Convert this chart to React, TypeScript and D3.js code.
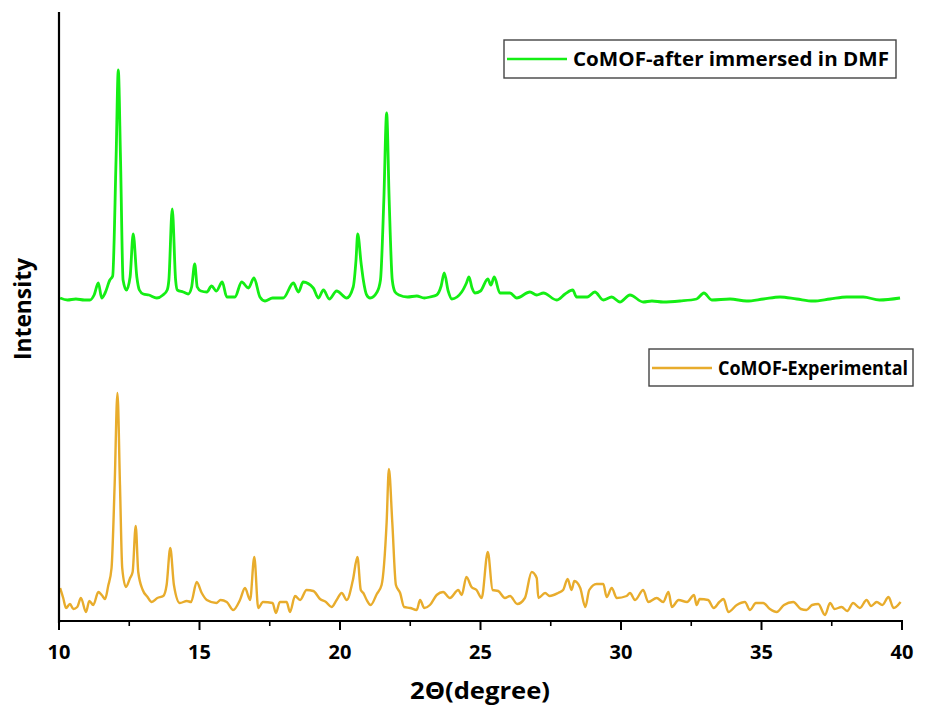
import React from "react";
import * as d3 from "d3";

// 2θ (degree) and intensity (a.u.)
const greenTheta = [10.04,10.3,10.6,10.9,11.1,11.25,11.4,11.52,11.64,11.81,11.91,12.03,12.11,12.19,12.28,12.4,12.53,12.64,12.77,12.86,13.0,13.2,13.48,13.7,13.85,13.91,14.03,14.15,14.21,14.42,14.6,14.72,14.83,14.92,15.05,15.26,15.43,15.6,15.81,15.97,16.26,16.5,16.74,16.94,17.15,17.33,17.6,17.98,18.34,18.52,18.69,19.05,19.23,19.41,19.62,19.88,20.24,20.47,20.57,20.63,20.75,20.83,20.95,21.07,21.32,21.44,21.56,21.66,21.75,21.86,21.96,22.1,22.4,22.73,23.0,23.2,23.44,23.6,23.71,23.85,23.98,24.33,24.5,24.59,24.7,24.8,25.0,25.26,25.37,25.49,25.69,26.05,26.29,26.76,27.0,27.24,27.71,28.01,28.28,28.42,28.8,29.07,29.37,29.67,29.96,30.32,30.79,31.1,31.5,32.1,32.69,32.95,33.23,33.88,34.47,35.07,35.66,36.25,36.84,37.44,38.03,38.62,39.2,39.93];
const greenValues = [323,321,322,321,321,326,338,323,328,341,345,461,551,461,341,331,344,387,344,331,327,326,323,326,331,341,412,341,331,329,327,334,357,334,330,329,335,330,339,324,324,339,333,343,324,320,323,323,338,329,339,333,323,331,322,330,323,334,361,387,358,341,326,323,329,341,421,508,421,341,329,326,324,325,323,324,326,335,348,330,322,329,338,344,333,328,330,342,336,344,328,328,323,329,326,328,321,327,331,324,324,329,321,324,319,326,319,320,319,320,322,328,321,322,320,322,324,322,320,322,324,324,321,323];

const orangeTheta = [10.04,10.15,10.25,10.39,10.51,10.65,10.78,10.96,11.08,11.22,11.4,11.52,11.64,11.75,11.87,11.98,12.08,12.17,12.25,12.38,12.53,12.62,12.73,12.82,12.98,13.15,13.3,13.5,13.71,13.83,13.96,14.09,14.3,14.55,14.7,14.9,15.08,15.26,15.6,15.75,15.97,16.2,16.44,16.62,16.8,16.95,17.09,17.26,17.6,17.72,17.86,18.1,18.22,18.4,18.58,18.81,19.05,19.29,19.5,19.7,19.88,20.06,20.24,20.46,20.62,20.74,20.83,20.95,21.09,21.31,21.48,21.66,21.74,21.86,21.99,22.14,22.28,22.5,22.73,22.85,23.0,23.2,23.44,23.67,23.91,24.21,24.33,24.5,24.68,24.86,25.04,25.26,25.43,25.63,25.87,26.05,26.31,26.58,26.82,27.0,27.06,27.3,27.46,27.76,27.94,28.1,28.24,28.34,28.55,28.73,28.87,29.13,29.37,29.49,29.67,29.85,30.2,30.32,30.5,30.79,30.97,31.27,31.5,31.69,31.81,32.05,32.35,32.6,32.69,32.8,33.1,33.3,33.5,33.65,33.82,34.12,34.41,34.59,34.8,35.06,35.3,35.54,35.8,36.13,36.4,36.6,36.8,37.02,37.26,37.44,37.6,37.85,38.05,38.26,38.5,38.74,38.9,39.1,39.3,39.52,39.7,39.95];
const orangeValues = [33,23,13,17,12,14,23,9,20,16,29,26,22,35,53,136,228,136,53,34,43,49,95,49,31,24,19,23,25,36,73,36,18,20,19,39,28,21,18,21,19,11,21,33,21,64,13,19,18,8,19,19,9,25,21,31,30,22,19,14,21,28,21,41,64,31,28,21,16,27,36,99,152,99,36,28,14,13,11,21,13,16,26,29,23,31,26,44,34,31,23,69,31,30,23,25,17,23,49,43,23,28,25,28,31,42,31,40,33,14,31,37,37,24,33,23,25,28,21,31,19,23,19,29,14,21,19,26,16,22,21,13,19,22,9,16,19,11,18,18,12,9,16,19,12,11,16,17,6,18,12,14,10,18,13,21,15,19,16,24,13,19];

const seriesNames = ["CoMOF-after immersed in DMF", "CoMOF-Experimental"];
const xTicks = [10, 15, 20, 25, 30, 35, 40];
const xMinorTicks = [12.5, 17.5, 22.5, 27.5, 32.5, 37.5];

const W = 942, H = 709;
const FONT = "'Open Sans', 'DejaVu Sans', sans-serif";

export default function App() {
  const x = d3.scaleLinear().domain([10, 40]).range([59, 902]);
  const y = d3.scaleLinear().domain([0, 609]).range([621, 12]);
  const line = d3.line<[number, number]>().x(d => x(d[0])).y(d => y(d[1])).curve(d3.curveMonotoneX);
  const green = greenTheta.map((t, i) => [t, greenValues[i]] as [number, number]);
  const orange = orangeTheta.map((t, i) => [t, orangeValues[i]] as [number, number]);
  const GREEN = "#14ee14";
  const ORANGE = "#e8ac2c";

  return (
    <svg width={W} height={H} style={{ position: "absolute", left: 0, top: 0, background: "#fff" }} fontFamily={FONT}>
      <path d={line(orange) || ""} fill="none" stroke={ORANGE} strokeWidth={2.4} strokeLinejoin="round" />
      <path d={line(green) || ""} fill="none" stroke={GREEN} strokeWidth={2.8} strokeLinejoin="round" />

      {/* axes */}
      <line x1={59} x2={59} y1={12} y2={623} stroke="#000" strokeWidth={2.2} />
      <line x1={58} x2={903} y1={621} y2={621} stroke="#000" strokeWidth={2.2} />
      {xTicks.map(t => (
        <g key={t}>
          <line x1={x(t)} x2={x(t)} y1={621} y2={630} stroke="#000" strokeWidth={2} />
          <text x={x(t)} y={659} textAnchor="middle" fontSize={20} fontWeight={700} fill="#000">{t}</text>
        </g>
      ))}
      {xMinorTicks.map(t => (
        <line key={t} x1={x(t)} x2={x(t)} y1={621} y2={626} stroke="#000" strokeWidth={1.6} />
      ))}
      <text x={480} y={699} textAnchor="middle" fontSize={24} fontWeight={700} fill="#000" textLength={140} lengthAdjust="spacingAndGlyphs">2Θ(degree)</text>
      <text transform="translate(31,309) rotate(-90)" textAnchor="middle" fontSize={23} fontWeight={700} fill="#000" textLength={102} lengthAdjust="spacingAndGlyphs">Intensity</text>

      {/* legends */}
      <rect x={504} y={40} width={392} height={38} fill="#fff" stroke="#444" strokeWidth={1.4} />
      <line x1={507} x2={567} y1={59} y2={59} stroke={GREEN} strokeWidth={2.5} />
      <text x={573} y={66} fontSize={20} fontWeight={700} fill="#000" textLength={316} lengthAdjust="spacingAndGlyphs">{seriesNames[0]}</text>

      <rect x={649} y={349} width={264} height={37} fill="#fff" stroke="#444" strokeWidth={1.4} />
      <line x1={652} x2={712} y1={368} y2={368} stroke={ORANGE} strokeWidth={2.5} />
      <text x={718} y={375} fontSize={20} fontWeight={700} fill="#000" textLength={190} lengthAdjust="spacingAndGlyphs">{seriesNames[1]}</text>
    </svg>
  );
}
